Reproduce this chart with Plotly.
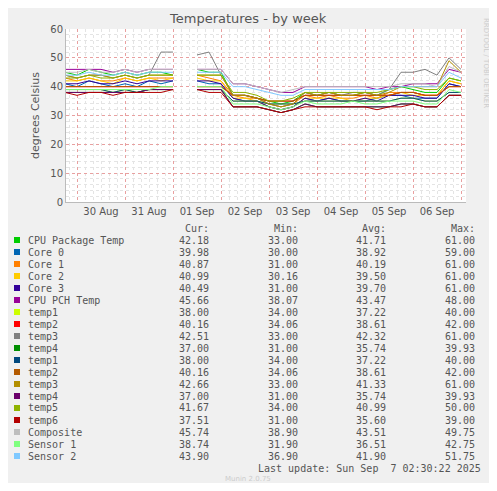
import plotly.graph_objects as go
import pandas as pd

N = None
times = pd.date_range("2025-08-29 18:00", periods=34, freq="6h")

names = ["CPU Package Temp", "Core 0", "Core 1", "Core 2", "Core 3", "CPU PCH Temp",
         "temp1", "temp2", "temp3", "temp4", "temp1", "temp2", "temp3", "temp4",
         "temp5", "temp6", "Composite", "Sensor 1", "Sensor 2"]
colors = ["#00cc00", "#0066b3", "#ff8000", "#ffcc00", "#330099", "#990099",
          "#ccff00", "#ff0000", "#808080", "#008f00", "#00487d", "#b35a00",
          "#b38f00", "#6b006b", "#8fb300", "#b30000", "#bebebe", "#80ff80", "#80c9ff"]

cpu_pkg = [45,44,46,45,44,45,44,45,45,44,N,46,45,45, 37,37,36, 35,34,35,38, 37,38,37,37, 38,37,39,40, 39,38,38,43,42]
core0 = [41,40,42,41,40,41,40,42,41,42,N,42,41,41, 36,35,35, 33,32,33,36, 35,36,35,35, 35,36,37,37, 36,36,36,41,40]
core1 = [43,42,43,42,42,43,42,43,43,43,N,44,43,42, 37,36,36, 34,33,34,37, 36,37,36,36, 37,36,38,38, 38,37,37,42,41]
core2 = [42,42,43,42,41,43,42,43,42,43,N,43,42,42, 36,36,35, 33,32,33,36, 36,36,36,35, 36,36,37,38, 37,37,37,42,41]
core3 = [41,41,42,41,41,42,41,42,42,42,N,42,42,41, 36,35,35, 33,32,33,36, 35,36,35,35, 36,35,37,37, 37,36,36,41,40]
pch = [46,46,46,46,45,46,45,46,46,46,N,46,46,46, 41,41,40, 39,38,38,40, 40,40,40,40, 40,39,40,40, 41,41,41,46,45]
temp1 = [39,39,39,39,38,39,38,39,39,39,N,39,39,39, 35,35,35, 34,34,34,35, 35,35,35,35, 35,35,35,36, 36,35,35,38,38]
temp2 = [40,40,40,40,40,40,40,40,40,40,N,40,40,40, 37,37,36, 35,35,35,37, 37,37,37,37, 37,37,37,38, 38,37,37,40,40]
temp3a = [44,43,44,44,43,44,43,44,52,52,N,51,52,44, 37,37,36, 34,33,34,38, 37,38,37,38, 38,37,39,45, 45,46,44,50,46]
temp4 = [38,38,38,38,38,38,38,39,39,39,N,39,39,39, 33,33,33, 32,31,32,34, 33,33,33,33, 33,33,33,34, 34,33,33,37,37]
temp3b = [44,43,44,44,43,44,43,44,44,44,N,44,44,44, 37,37,36, 34,33,34,38, 37,38,37,37, 38,37,38,40, 40,40,40,49,45]
temp5 = [43,43,44,43,43,44,43,44,44,44,N,44,44,44, 38,38,37, 35,35,36,38, 38,38,38,38, 38,38,39,40, 40,39,39,43,42]
temp6 = [38,37,38,38,37,38,38,38,38,39,N,39,38,38, 33,33,33, 32,31,32,33, 33,33,33,33, 33,32,33,33, 34,33,33,37,37]
composite = [45,45,46,45,45,46,45,46,46,46,N,46,46,46, 41,41,40, 39,38,39,40, 40,40,40,40, 40,40,40,41, 41,41,40,47,45]
sensor1 = [39,39,39,39,39,39,39,39,40,40,N,40,40,40, 34,34,34, 33,32,33,35, 34,34,34,35, 34,34,35,35, 35,34,34,39,38]
sensor2 = [44,44,45,44,44,45,44,45,45,45,N,45,45,45, 40,40,39, 38,37,37,39, 39,39,39,39, 39,39,39,40, 40,40,40,45,43]

series = [cpu_pkg, core0, core1, core2, core3, pch, temp1, temp2, temp3a, temp4,
          temp1, temp2, temp3b, temp4, temp5, temp6, composite, sensor1, sensor2]

cur = ["42.18","39.98","40.87","40.99","40.49","45.66","38.00","40.16","42.51","37.00",
       "38.00","40.16","42.66","37.00","41.67","37.51","45.74","38.74","43.90"]
mins = ["33.00","30.00","31.00","30.16","31.00","38.07","34.00","34.06","33.00","31.00",
        "34.00","34.06","33.00","31.00","34.00","31.00","38.90","31.90","36.90"]
avgs = ["41.71","38.92","40.19","39.50","39.70","43.47","37.22","38.61","42.32","35.74",
        "37.22","38.61","41.33","35.74","40.99","35.60","43.51","36.51","41.90"]
maxs = ["61.00","59.00","61.00","61.00","61.00","48.00","40.00","42.00","61.00","39.93",
        "40.00","42.00","61.00","39.93","50.00","39.00","49.75","42.75","51.75"]

fig = go.Figure()
for nm, col, ys in zip(names, colors, series):
    fig.add_trace(go.Scatter(x=times, y=ys, mode="lines", name=nm,
                             line=dict(color=col, width=1), showlegend=False))

OFF = 8  # page body margin
W, H = 497 - 2 * OFF, 491 - 2 * OFF
L, R, T, B = 66 - OFF, 466 - OFF, 29 - OFF, 202 - OFF
def px(x): return (x - OFF - L) / (R - L)
def py(y): return (B - (y - OFF)) / (B - T)

mono = "DejaVu Sans Mono"
ann = []
shapes = []
ann.append(dict(text="Temperatures - by week", x=px(248), y=py(19), xref="paper", yref="paper",
                showarrow=False, font=dict(family="DejaVu Sans", size=13, color="#555"),
                xanchor="center", yanchor="middle"))
ann.append(dict(text="RRDTOOL / TOBI OETIKER", x=px(486), y=py(63), xref="paper", yref="paper",
                showarrow=False, textangle=90, font=dict(family="DejaVu Sans", size=7, color="#ccc"),
                xanchor="center", yanchor="middle"))
cols_x = [181, 270, 358, 447]
for hx, h in zip(cols_x, ["Cur:", "Min:", "Avg:", "Max:"]):
    ann.append(dict(text=h, x=px(hx + 30), y=py(228), xref="paper", yref="paper", showarrow=False,
                    xanchor="right", yanchor="middle", font=dict(family=mono, size=10, color="#555")))
for i, nm in enumerate(names):
    yy = 240 + 12 * i
    shapes.append(dict(type="rect", xref="paper", yref="paper", x0=px(14), x1=px(20),
                       y0=py(yy - 3), y1=py(yy + 3), fillcolor=colors[i], line=dict(width=0)))
    ann.append(dict(text=nm, x=px(26), y=py(yy), xref="paper", yref="paper", showarrow=False,
                    xanchor="left", yanchor="middle", font=dict(family=mono, size=10, color="#555")))
    for hx, v in zip(cols_x, [cur[i], mins[i], avgs[i], maxs[i]]):
        ann.append(dict(text=v, x=px(hx + 30), y=py(yy), xref="paper", yref="paper", showarrow=False,
                        xanchor="right", yanchor="middle", font=dict(family=mono, size=10, color="#555")))
ann.append(dict(text="Last update: Sun Sep  7 02:30:22 2025", x=px(483), y=py(468), xref="paper",
                yref="paper", showarrow=False, xanchor="right", yanchor="middle",
                font=dict(family=mono, size=10, color="#555")))
ann.append(dict(text="Munin 2.0.75", x=px(248), y=py(479), xref="paper", yref="paper", showarrow=False,
                xanchor="center", yanchor="middle", font=dict(family="DejaVu Sans", size=7, color="#ccc")))

fig.update_layout(
    width=W, height=H, margin=dict(l=L, r=W - R, t=T, b=H - B),
    paper_bgcolor="#f0f0f0", plot_bgcolor="white",
    annotations=ann, shapes=shapes, showlegend=False,
    font=dict(family="DejaVu Sans", size=10, color="#555"),
)
fig.update_xaxes(type="date", range=["2025-08-29 18:30", "2025-09-07 02:30"],
                 dtick=86400000, tick0="2025-08-30", ticklabelmode="period", tickformat="%d %b",
                 showgrid=True, gridcolor="#e8a0a0", griddash="dot", gridwidth=1,
                 minor=dict(dtick=4 * 3600000, showgrid=True, gridcolor="#e4e4e4", griddash="dot"),
                 ticks="", showline=True, linecolor="#bbb", zeroline=False, layer="below traces",
                 tickfont=dict(size=10, color="#555"))
fig.update_yaxes(range=[0, 60], dtick=10, showgrid=True, gridcolor="#e8a0a0", griddash="dot",
                 minor=dict(dtick=2, showgrid=True, gridcolor="#e4e4e4", griddash="dot"),
                 ticks="", showline=True, linecolor="#bbb", zeroline=False,
                 title=dict(text="degrees Celsius", font=dict(size=11, color="#555"), standoff=8),
                 tickfont=dict(size=10, color="#555"))
fig.write_html("out.html")
